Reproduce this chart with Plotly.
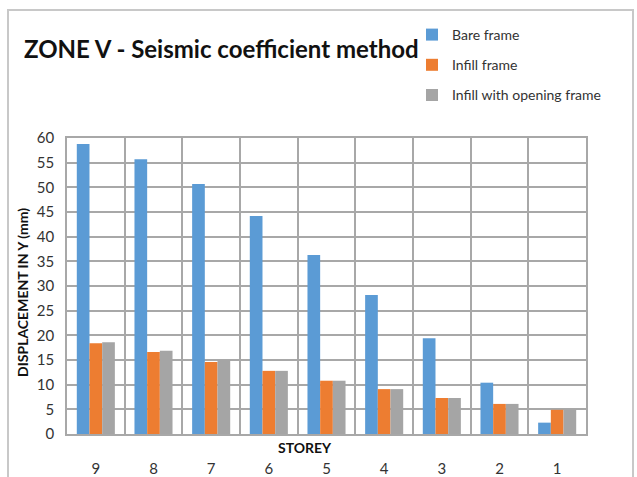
import plotly.graph_objects as go

storeys = ["9", "8", "7", "6", "5", "4", "3", "2", "1"]
bare_frame = [58.8, 55.7, 50.7, 44.2, 36.3, 28.2, 19.4, 10.4, 2.3]
infill_frame = [18.4, 16.6, 14.6, 12.8, 10.8, 9.1, 7.3, 6.1, 4.9]
infill_opening = [18.6, 16.9, 15.0, 12.8, 10.8, 9.1, 7.3, 6.1, 4.9]
y_ticks = list(range(0, 61, 5))

W, H = 637, 477
L, R, T, B = 67, 51, 138, 43
pw, ph = W - L - R, H - T - B

def px_x(x):
    return (x - L) / pw

def px_y(y):
    return (H - B - y) / ph

FONT = "Lato"

fig = go.Figure()
series = [
    ("Bare frame", bare_frame, "#5B9BD5"),
    ("Infill frame", infill_frame, "#ED7D31"),
    ("Infill with opening frame", infill_opening, "#A5A5A5"),
]
for i, (name, vals, col) in enumerate(series):
    fig.add_trace(go.Bar(x=storeys, y=vals, name=name, marker_color=col,
                         marker_line_width=0, legendgroup=f"g{i}"))

fig.update_layout(
    width=W, height=H,
    margin=dict(l=L, r=R, t=T, b=B, autoexpand=False),
    paper_bgcolor="white", plot_bgcolor="white",
    barmode="group", bargap=0.34, bargroupgap=0,
    font=dict(family=FONT, color="#222222"),
    showlegend=True,
    legend=dict(x=px_x(412), y=px_y(19), xanchor="left", yanchor="top",
                font=dict(size=14, family=FONT, color="#333333"),
                tracegroupgap=9, itemwidth=30, bgcolor="rgba(0,0,0,0)"),
)
fig.update_xaxes(type="category", tickson="boundaries", showgrid=True,
                 gridcolor="#A8A8A8", gridwidth=1.5, showline=True, mirror=True,
                 linecolor="#A8A8A8", linewidth=1.5, ticks="",
                 tickfont=dict(size=15, family=FONT, color="#333333"),
                 ticklabelstandoff=20, automargin=False)
fig.update_yaxes(range=[0, 60], tickvals=y_ticks, showgrid=True,
                 gridcolor="#A8A8A8", gridwidth=1.5, showline=True, mirror=True,
                 linecolor="#A8A8A8", linewidth=1.5, ticks="",
                 tickfont=dict(size=15, family=FONT, color="#333333"),
                 ticklabelstandoff=8, zeroline=False, automargin=False)

fig.add_annotation(text="<b>ZONE V - Seismic coefficient method</b>",
                   xref="paper", yref="paper", x=px_x(22), y=px_y(48),
                   xanchor="left", yanchor="middle", showarrow=False,
                   font=dict(size=24, family=FONT, color="#111111"))
fig.add_annotation(text="<b>DISPLACEMENT IN Y (mm)</b>", textangle=-90,
                   xref="paper", yref="paper", x=px_x(22), y=px_y(293),
                   xanchor="center", yanchor="middle", showarrow=False,
                   font=dict(size=14, family=FONT, color="#111111"))
fig.add_annotation(text="<b>STOREY</b>",
                   xref="paper", yref="paper", x=px_x(305), y=px_y(447),
                   xanchor="center", yanchor="middle", showarrow=False,
                   font=dict(size=14, family=FONT, color="#111111"))
fig.add_shape(type="rect", xref="paper", yref="paper",
              x0=px_x(8), x1=px_x(633), y0=px_y(490), y1=px_y(10),
              line=dict(color="#C8C8C8", width=2), layer="below")

fig.write_html("out.html")
